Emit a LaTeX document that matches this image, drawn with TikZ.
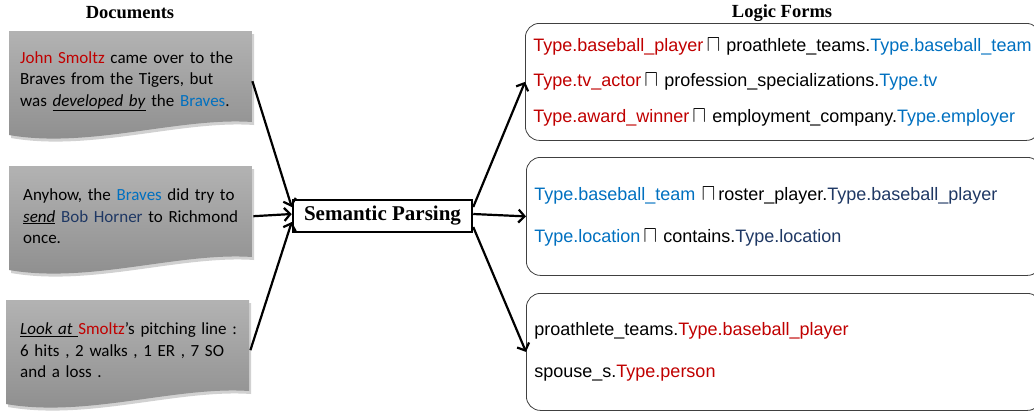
\documentclass[tikz,border=0pt]{standalone}
\usepackage{fontspec}
\usepackage{graphicx}
\setmainfont{Carlito}
\newfontfamily\arialfont{Liberation Sans}
\newfontfamily\timesfont{Liberation Serif}
\usetikzlibrary{arrows.meta}

\definecolor{entred}{HTML}{C00000}
\definecolor{entblue}{HTML}{0070C0}
\definecolor{entnavy}{HTML}{1F3864}

% intersection sign of the logic forms
\newcommand{\meet}{\scalebox{1.2}[1.35]{$\sqcap$}}

\tikzset{
  doctext/.style={anchor=north west, minimum width=243pt, minimum height=100pt,
    text width=221pt, align=left, inner xsep=11pt,
    font=\fontsize{17}{21.5}\selectfont},
  formbox/.style={draw=black!75, line width=0.8pt, rounded corners=14pt, anchor=north west,
    minimum width=515pt, text width=499pt, align=left, inner xsep=8pt,
    font=\arialfont\fontsize{18}{35.5}\selectfont},
  title/.style={font=\timesfont\bfseries\fontsize{18.5}{20}\selectfont},
  flow/.style={line width=2.2pt, -{Straight Barb[length=6pt,width=13pt,line width=2.2pt]}}
}

\begin{document}
\begin{tikzpicture}[x=1pt,y=-1pt]

    % --- Canvas ---
    \useasboundingbox (0,0) rectangle (1034,410);
    \clip (0,0) rectangle (1034,410);

    % --- Document shape (local coordinates, y downwards) ---
    \def\docpath{(0,0) -- (243,0) -- (243,91)
      .. controls (170,86) and (80,118) .. (0,104) -- cycle}

    % --- Titles ---
    \node[title] (doctitle) at (130,13) {Documents};
    \node[title] (formtitle) at (782,13) {Logic Forms};

    % --- Documents ---
    \foreach \x/\y in {9/31, 9/166, 6/300}{
      \begin{scope}[shift={(\x,\y)}]
        \fill[black!18] [shift={(2,3)}] \docpath;
        \shade[top color=black!30, bottom color=black!45] \docpath;
      \end{scope}
    }

    \node[doctext] (doca) at (9,31)
      {\mbox{\textcolor{entred}{John Smoltz} came over to the}\\
       \mbox{Braves from the Tigers, but}\\
       \mbox{was \underline{\textit{developed by}} the \textcolor{entblue}{Braves}.}};

    \node[doctext, inner xsep=14pt, text width=216pt] (docb) at (9,166)
      {\mbox{Anyhow, the \textcolor{entblue}{Braves} did try to}\\
       \mbox{\underline{\textit{send}} \textcolor{entnavy}{Bob Horner} to Richmond}\\
       once.};

    \node[doctext, inner xsep=14pt, text width=216pt] (docc) at (6,300)
      {\mbox{\underline{\textit{Look at }}\textcolor{entred}{Smoltz}'s pitching line :}\\
       \mbox{6 hits , 2 walks , 1 ER , 7 SO}\\
       \mbox{and a loss .}};

    % --- Semantic parsing ---
    \node[draw, line width=2.5pt, minimum width=179pt, minimum height=32pt,
      font=\timesfont\bfseries\fontsize{21}{22}\selectfont] (parse) at (382.5,216)
      {Semantic Parsing};

    % --- Logic forms ---
    \node[formbox, minimum height=117pt] (forma) at (525,23)
      {\mbox{\textcolor{entred}{Type.baseball\_player}\,\meet\ proathlete\_teams.\textcolor{entblue}{Type.baseball\_team}}\\
       \mbox{\textcolor{entred}{Type.tv\_actor}\,\meet\ profession\_specializations.\textcolor{entblue}{Type.tv}}\\
       \mbox{\textcolor{entred}{Type.award\_winner}\,\meet\ employment\_company.\textcolor{entblue}{Type.employer}}};

    \node[formbox, minimum height=118pt] (formb) at (526,157)
      {\mbox{\textcolor{entblue}{Type.baseball\_team} \meet\,roster\_player.\textcolor{entnavy}{Type.baseball\_player}}\\[6.5pt]
       \mbox{\textcolor{entblue}{Type.location}\,\meet\ contains.\textcolor{entnavy}{Type.location}}};

    \node[formbox, minimum height=117pt] (formc) at (526,293)
      {\mbox{proathlete\_teams.\textcolor{entred}{Type.baseball\_player}}\\[6.5pt]
       \mbox{spouse\_s.\textcolor{entred}{Type.person}}};

    % --- Arrows ---
    \draw[flow] (doca.east) -- ([yshift=9pt]parse.west);
    \draw[flow] (docb.east) -- ([yshift=2pt]parse.west);
    \draw[flow] (docc.east) -- ([yshift=-6pt]parse.west);

    \draw[flow] ([yshift=9pt]parse.east) -- (forma.west);
    \draw[flow] ([yshift=2pt]parse.east) -- (formb.west);
    \draw[flow] ([yshift=-11pt]parse.east) -- (formc.west);

\end{tikzpicture}
\end{document}
